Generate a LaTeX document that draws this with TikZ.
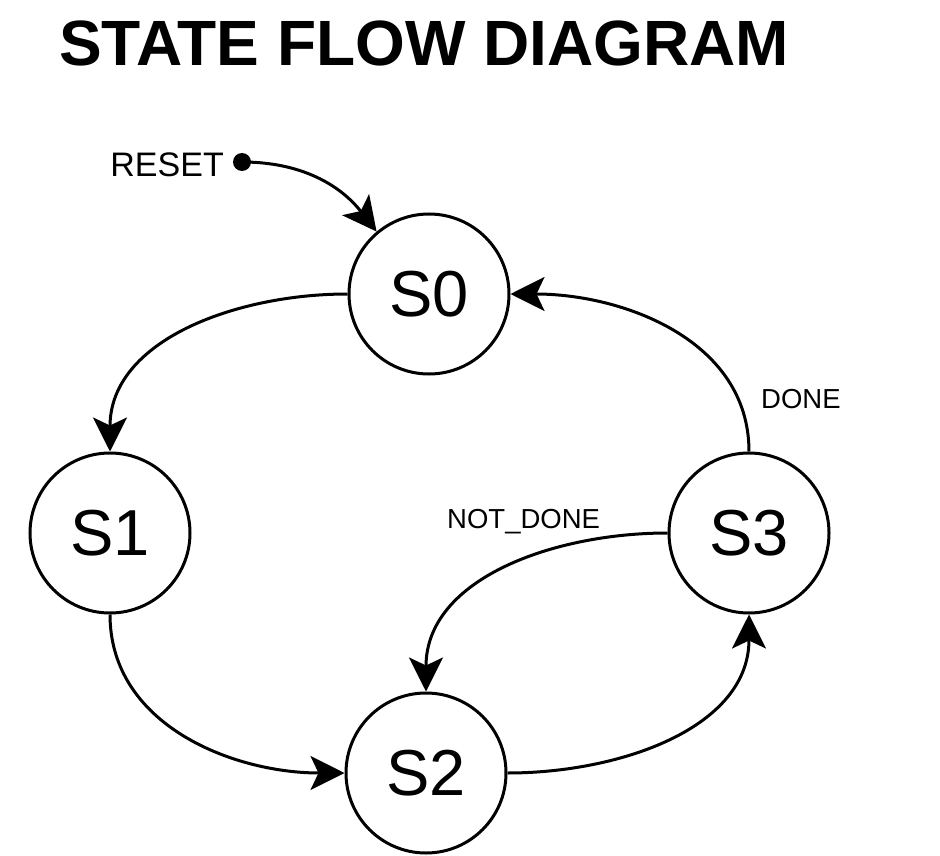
\documentclass[tikz,border=0pt]{standalone}
\usepackage{fontspec}
\setmainfont{Liberation Sans}
\usetikzlibrary{arrows.meta}
\tikzset{
    state/.style = {draw, circle, line width=3pt, minimum size=160pt, inner sep=0pt, font=\fontsize{65}{78}\selectfont},
    trans/.style = {line width=3pt, -{Stealth[length=34pt, width=34pt, inset=8pt]}},
    trans-label/.style = {inner sep=0pt, font=\fontsize{27.5}{33}\selectfont},
}
\begin{document}
\begin{tikzpicture}[x=1pt, y=-1pt]
\useasboundingbox (0,0) rectangle (940,856);
\node[anchor=base west, inner sep=0pt, font=\fontsize{64}{77}\selectfont\bfseries] (title) at (59,66) {STATE FLOW DIAGRAM};

\node[state] (S0) at (429,294) {S0};
\node[state] (S1) at (110,533) {S1};
\node[state] (S2) at (426,773) {S2};
\node[state] (S3) at (749,533) {S3};

% reset entry
\coordinate (reset) at (242,162);
\fill (reset) circle (9pt);
\node[anchor=base east, inner sep=0pt, font=\fontsize{34}{40}\selectfont] (reset-label) at (224,176) {RESET};
\draw[trans] (reset) to[out=0, in=128] (S0.130);

% transitions
\draw[trans] (S0.west) to[out=180, in=90] (S1.north);
\draw[trans] (S1.south) to[out=-90, in=180] (S2.west);
\draw[trans] (S2.east) to[out=0, in=-90] (S3.south);
\draw[trans] (S3.north) to[out=90, in=0] (S0.east);
\draw[trans] (S3.west) to[out=180, in=90] (S2.north);

\node[trans-label, anchor=base west] (done) at (761,408) {DONE};
\node[trans-label, anchor=base west] (not-done) at (447,528) {NOT\_DONE};
\end{tikzpicture}
\end{document}
